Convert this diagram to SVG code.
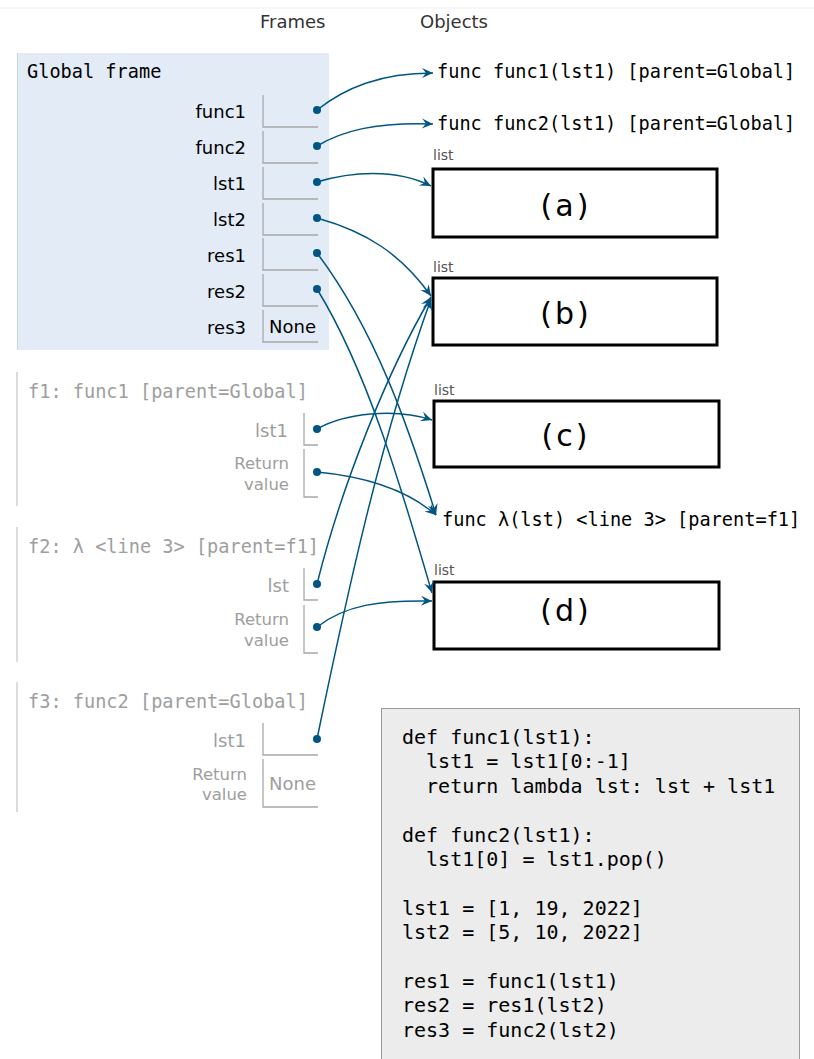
<svg xmlns="http://www.w3.org/2000/svg" width="814" height="1059" viewBox="0 0 814 1059">
<style>
.mono{font-family:"DejaVu Sans Mono","Liberation Mono",monospace;font-size:18.6px;fill:#000}
.monog{font-family:"DejaVu Sans Mono","Liberation Mono",monospace;font-size:18.6px;fill:#9e9e9e}
.var{font-family:"DejaVu Sans","Verdana",sans-serif;font-size:18px;fill:#000;text-anchor:end}
.varg{font-family:"DejaVu Sans","Verdana",sans-serif;font-size:18px;fill:#9e9e9e;text-anchor:end}
.retg{font-family:"DejaVu Sans","Verdana",sans-serif;font-size:16.5px;fill:#9e9e9e;text-anchor:end}
.val{font-family:"DejaVu Sans","Verdana",sans-serif;font-size:18px;fill:#000}
.valg{font-family:"DejaVu Sans","Verdana",sans-serif;font-size:18px;fill:#9e9e9e}
.hdr{font-family:"DejaVu Sans","Verdana",sans-serif;font-size:18px;fill:#333}
.lbl{font-family:"DejaVu Sans","Verdana",sans-serif;font-size:14px;fill:#555}
.big{font-family:"DejaVu Sans","Verdana",sans-serif;font-size:30px;fill:#000;text-anchor:middle;letter-spacing:3px}
.box{fill:none;stroke:#a8a8a8;stroke-width:1.3}
.fborder{stroke:#dcdcdc;stroke-width:2;fill:none}
.lst{fill:#fff;stroke:#000;stroke-width:3}
.code{font-family:"DejaVu Sans Mono","Liberation Mono",monospace;font-size:20px;fill:#000}
.conn path{fill:none;stroke:#005583;stroke-width:1.5;marker-end:url(#arr)}
.dot{fill:#005583}
</style>
<defs>
<marker id="arr" viewBox="-12 -6 14 12" refX="0" refY="0" markerWidth="14" markerHeight="12" orient="auto" markerUnits="userSpaceOnUse">
<path d="M0,0 L-11,-5 L-7,0 L-11,5 Z" fill="#005583"/>
</marker>
</defs>
<rect width="814" height="1059" fill="#fff"/>
<line x1="0" y1="8" x2="814" y2="8" stroke="#f0f0f0" stroke-width="1"/>
<text class="hdr" x="260" y="28">Frames</text>
<text class="hdr" x="420" y="28">Objects</text>

<g id="global-frame">
<rect x="17" y="53" width="312" height="297" fill="#e2ebf6"/>
<line x1="17.5" y1="53" x2="17.5" y2="350" stroke="#c9d3de" stroke-width="1"/>
<text class="mono" x="27" y="78">Global frame</text>
<text class="var" x="246" y="118">func1</text>
<path class="box" d="M263,95 V127 H318"/>
<text class="var" x="246" y="154">func2</text>
<path class="box" d="M263,131 V163 H318"/>
<text class="var" x="246" y="190">lst1</text>
<path class="box" d="M263,167 V199 H318"/>
<text class="var" x="246" y="226">lst2</text>
<path class="box" d="M263,203 V235 H318"/>
<text class="var" x="246" y="262">res1</text>
<path class="box" d="M263,238 V270 H318"/>
<text class="var" x="246" y="298">res2</text>
<path class="box" d="M263,274 V306 H318"/>
<text class="var" x="246" y="334">res3</text>
<path class="box" d="M263,310 V342 H318"/>
<text class="val" x="269" y="333">None</text>
</g>

<g id="f1-frame">
<line class="fborder" x1="17" y1="372" x2="17" y2="506"/>
<text class="monog" x="28" y="398">f1: func1 [parent=Global]</text>
<text class="varg" x="288" y="437">lst1</text>
<path class="box" d="M304,413 V445 H318"/>
<text class="retg" x="289" y="469">Return</text>
<text class="retg" x="289" y="490">value</text>
<path class="box" d="M304,449 V497 H318"/>
</g>

<g id="f2-frame">
<line class="fborder" x1="17" y1="527" x2="17" y2="662"/>
<text class="monog" x="28" y="553">f2: λ &lt;line 3&gt; [parent=f1]</text>
<text class="varg" x="289" y="592">lst</text>
<path class="box" d="M304,568 V600 H318"/>
<text class="retg" x="289" y="625">Return</text>
<text class="retg" x="289" y="646">value</text>
<path class="box" d="M304,605 V653 H318"/>
</g>

<g id="f3-frame">
<line class="fborder" x1="17" y1="682" x2="17" y2="812"/>
<text class="monog" x="28" y="708">f3: func2 [parent=Global]</text>
<text class="varg" x="246" y="747">lst1</text>
<path class="box" d="M263,723 V755 H318"/>
<text class="retg" x="247" y="780">Return</text>
<text class="retg" x="247" y="800">value</text>
<path class="box" d="M263,759 V807 H318"/>
<text class="valg" x="269" y="790">None</text>
</g>

<g id="obj-func1">
<text class="mono" x="437" y="78">func func1(lst1) [parent=Global]</text>
</g>
<g id="obj-func2">
<text class="mono" x="437" y="130">func func2(lst1) [parent=Global]</text>
</g>
<g id="obj-list-a">
<text class="lbl" x="433" y="160">list</text>
<rect class="lst" x="433" y="169" width="284" height="68"/>
<text class="big" x="566" y="216">(a)</text>
</g>
<g id="obj-list-b">
<text class="lbl" x="433" y="272">list</text>
<rect class="lst" x="433" y="278" width="284" height="67"/>
<text class="big" x="566" y="324">(b)</text>
</g>
<g id="obj-list-c">
<text class="lbl" x="434" y="395">list</text>
<rect class="lst" x="434" y="401" width="285" height="66"/>
<text class="big" x="566" y="446">(c)</text>
</g>
<g id="obj-lambda">
<text class="mono" x="442" y="526">func λ(lst) &lt;line 3&gt; [parent=f1]</text>
</g>
<g id="obj-list-d">
<text class="lbl" x="434" y="575">list</text>
<rect class="lst" x="434" y="582" width="285" height="67"/>
<text class="big" x="566" y="621">(d)</text>
</g>

<g id="code">
<rect x="381.5" y="708.5" width="418" height="360" fill="#ececec" stroke="#9a9a9a" stroke-width="1"/>
<text class="code" xml:space="preserve"><tspan x="402" y="744">def func1(lst1):</tspan><tspan x="402" y="768.4">  lst1 = lst1[0:-1]</tspan><tspan x="402" y="792.8">  return lambda lst: lst + lst1</tspan><tspan x="402" y="841.6">def func2(lst1):</tspan><tspan x="402" y="866">  lst1[0] = lst1.pop()</tspan><tspan x="402" y="914.8">lst1 = [1, 19, 2022]</tspan><tspan x="402" y="939.2">lst2 = [5, 10, 2022]</tspan><tspan x="402" y="988">res1 = func1(lst1)</tspan><tspan x="402" y="1012.4">res2 = res1(lst2)</tspan><tspan x="402" y="1036.8">res3 = func2(lst2)</tspan></text>
</g>

<g id="connectors" class="conn">
<path d="M317,110 C345,88 380,73 433,73"/>
<path d="M317,146 C342,131 375,122 433,124"/>
<path d="M317,182 C350,172 395,168 431,186"/>
<path d="M317,218 C367,232 401,254 431,296"/>
<path d="M317,253 C375,330 408,425 436,515"/>
<path d="M317,289 C368,372 402,490 432,593"/>
<path d="M317,429 C345,413 395,408 432,420"/>
<path d="M317,472 C360,476 405,488 436,515"/>
<path d="M317,584 C342,484 388,370 431,297"/>
<path d="M317,627 C345,605 380,600 432,601"/>
<path d="M317,739 C346,599 380,440 431,299"/>
<circle class="dot" cx="317" cy="110" r="4"/>
<circle class="dot" cx="317" cy="146" r="4"/>
<circle class="dot" cx="317" cy="182" r="4"/>
<circle class="dot" cx="317" cy="218" r="4"/>
<circle class="dot" cx="317" cy="253" r="4"/>
<circle class="dot" cx="317" cy="289" r="4"/>
<circle class="dot" cx="317" cy="429" r="4"/>
<circle class="dot" cx="317" cy="472" r="4"/>
<circle class="dot" cx="317" cy="584" r="4"/>
<circle class="dot" cx="317" cy="627" r="4"/>
<circle class="dot" cx="317" cy="739" r="4"/>
</g>
</svg>
